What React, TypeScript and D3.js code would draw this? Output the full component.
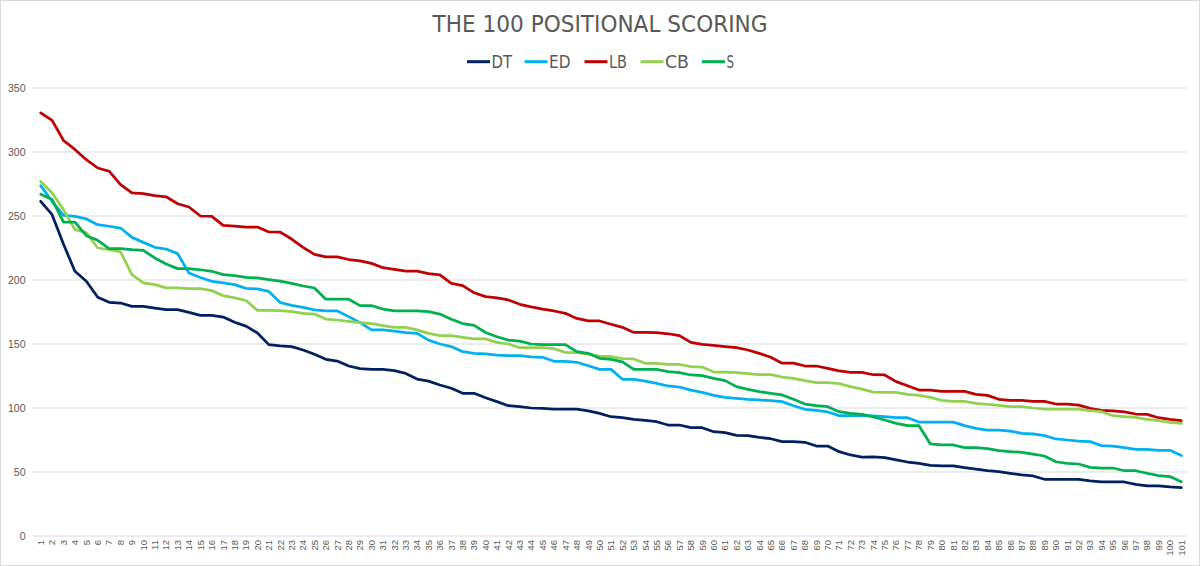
import React from "react";
import * as d3 from "d3";

const categories: string[] = Array.from({ length: 101 }, (_, i) => String(i + 1));

const dtValues: number[] = [
  261.5, 251, 228, 206.8, 199, 186.5, 182.6, 182, 179.4, 179.4,
  178, 176.8, 176.8, 174.7, 172.4, 172.4, 171, 167, 164, 158.6,
  149.5, 148.6, 148, 145.3, 142, 138, 136.7, 132.8, 130.7, 130.2,
  130.2, 129.2, 127, 122.6, 121, 118, 115.4, 111.5, 111.5, 108,
  105, 101.8, 101, 100, 99.7, 99.2, 99.2, 99.2, 97.7, 95.8,
  93.2, 92.4, 91.1, 90.4, 89.3, 86.7, 86.7, 84.6, 84.6, 81.5,
  80.7, 78.6, 78.4, 77, 76, 73.7, 73.7, 73.2, 70.3, 70.3,
  65.9, 63.3, 61.7, 61.8, 61.2, 59.4, 57.8, 56.8, 55.2, 54.7,
  54.7, 53.4, 52.3, 51, 50.3, 49, 47.7, 46.9, 44.3, 44.3,
  44.3, 44.3, 43, 42.2, 42.2, 42.2, 40.4, 39.1, 39.1, 38.3,
  37.8,
];

const edValues: number[] = [
  273.7, 261.5, 250.5, 249.7, 247.7, 243.2, 242, 240.6, 233.3, 229.4,
  225.5, 224.2, 220.6, 205.5, 202, 199, 197.7, 196.4, 193.5, 193,
  191.1, 182.4, 180.2, 178.6, 176.6, 175.8, 175.8, 171.4, 166.7, 161,
  161, 160, 158.9, 158.3, 153, 150, 148, 144, 142.7, 142.2,
  141.4, 140.9, 140.9, 140, 139.6, 136.5, 136.5, 135.7, 133, 130.2,
  130.2, 122.4, 122.4, 121, 119.3, 117.2, 116.4, 114, 112.2, 109.9,
  108.3, 107.6, 106.8, 106.3, 105.7, 105, 101.8, 99, 98.2, 96.9,
  94, 94, 94, 93.8, 93.2, 92.4, 92.4, 89, 89, 89,
  89, 86.2, 84.1, 82.8, 82.8, 82, 80.2, 79.7, 78.4, 75.8,
  75, 74.2, 73.7, 70.6, 70.3, 69, 67.7, 67.7, 66.9, 66.9,
  62.8,
];

const lbValues: number[] = [
  330.5, 324.7, 309, 302, 294, 287.5, 285, 274.5, 268, 267.5,
  266, 265, 259.6, 257, 250, 249.7, 242.7, 242, 241.4, 241.4,
  237.5, 237.4, 232, 225.5, 220, 218, 218, 216, 215, 213,
  209.6, 208.3, 207, 207, 205, 204, 197.4, 195.6, 190, 187,
  186, 184.4, 181, 179, 177.3, 175.8, 174, 170, 168, 168,
  165.4, 163, 159, 159, 158.9, 158, 156.5, 151.3, 149.7, 149,
  148, 147.1, 145.3, 142.7, 139.6, 135, 135, 132.8, 132.8, 131,
  129, 127.9, 127.9, 126, 125.8, 120.6, 117.4, 114, 114, 113,
  113, 113, 110.7, 109.9, 106.8, 106, 106, 105.2, 105.2, 103.1,
  103.1, 102.3, 99.7, 98.2, 97.7, 96.9, 95.3, 95, 92.4, 91.1,
  90.1,
];

const cbValues: number[] = [
  277, 268, 255, 239.3, 237, 225, 223.7, 222, 204.2, 197.7,
  196.4, 193.8, 193.8, 193.2, 193.2, 191.7, 187.8, 186, 184, 176.3,
  176.3, 176, 175.3, 174, 173.4, 169.5, 168.75, 167.7, 166.7, 166,
  164.3, 163, 163, 161, 158.3, 156.5, 156.5, 155.2, 154, 154,
  151.3, 150, 147.1, 147.1, 147.1, 146.3, 143.5, 143.2, 142, 140.6,
  140.1, 138.5, 138.3, 134.9, 134.9, 134, 134, 132.3, 132, 128.1,
  128.1, 127.6, 126.8, 126, 126, 124.2, 123.2, 121.4, 119.8, 119.8,
  119, 116.7, 114.8, 112.4, 112.2, 112.2, 110.7, 109.9, 108.3, 106,
  105.2, 105.2, 103.6, 102.9, 102.1, 101, 101, 100, 99.2, 99.2,
  99.2, 99.2, 97.9, 97.1, 94, 93.2, 92.7, 91.1, 90.1, 88.8,
  88,
];

const sValues: number[] = [
  267, 262.8, 245.3, 245.3, 234.6, 231, 224.5, 224.5, 223.7, 223.2,
  217.2, 212.5, 208.9, 208.9, 208, 206.8, 204.2, 203.4, 202, 201.6,
  200.3, 199.1, 197.4, 195.3, 193.75, 185, 185, 185, 180, 180,
  177.3, 175.8, 175.8, 175.8, 175.3, 173.4, 169.3, 166, 164.6, 159,
  155.7, 153, 152.3, 150, 149.5, 149.5, 149.5, 144, 142.7, 138.8,
  138, 136, 130.2, 130.2, 130.2, 128.4, 127.6, 125.8, 125.3, 123.2,
  121.4, 116.7, 114.6, 112.8, 111.5, 110.2, 106.8, 103.1, 101.8, 101,
  97.1, 95.8, 95, 93, 90.6, 88, 86.2, 86.2, 71.9, 71.1,
  71.1, 69, 69, 68.2, 66.7, 65.9, 65.4, 64, 62.5, 58,
  56.8, 56.25, 53.6, 53.1, 53.1, 51, 51, 49, 47.1, 46.4,
  42.4,
];

const seriesNames: string[] = ["DT", "ED", "LB", "CB", "S"];
const seriesColors: string[] = ["#002060", "#00b0f0", "#c00000", "#92d050", "#00b050"];
const seriesData: number[][] = [dtValues, edValues, lbValues, cbValues, sValues];
const yTicks: number[] = [0, 50, 100, 150, 200, 250, 300, 350];

const W = 1200;
const H = 566;
const TEXT = "#595959";
const GRID = "#d9d9d9";

export default function App() {
  const x = d3.scalePoint<string>().domain(categories).range([35, 1187]).padding(0.5);
  const y = d3.scaleLinear().domain([0, 350]).range([536, 88]);
  const line = d3
    .line<number>()
    .x((_, i) => x(categories[i]) as number)
    .y((d) => y(d));

  const legendLineX = [467, 524.5, 584.5, 640.5, 702];
  const legendTextLen = [20.5, 21.5, 18, 24, 7.5];

  return (
    <svg
      width={W}
      height={H}
      style={{ position: "fixed", left: 0, top: 0, background: "#fff", display: "block" }}
    >
      <rect x={0.5} y={0.5} width={W - 1} height={H - 1} fill="#fff" stroke={GRID} />
      <text
        x={600}
        y={31.5}
        textAnchor="middle"
        fontFamily="DejaVu Sans"
        fontSize={22.5}
        fill={TEXT}
        textLength={335}
        lengthAdjust="spacingAndGlyphs"
      >
        THE 100 POSITIONAL SCORING
      </text>

      {seriesNames.map((n, i) => (
        <g key={n}>
          <line
            x1={legendLineX[i]}
            x2={legendLineX[i] + 23}
            y1={61.7}
            y2={61.7}
            stroke={seriesColors[i]}
            strokeWidth={3}
          />
          <text
            x={legendLineX[i] + 24.5}
            y={68.3}
            fontFamily="DejaVu Sans"
            fontSize={18}
            fill={TEXT}
            textLength={legendTextLen[i]}
            lengthAdjust="spacingAndGlyphs"
          >
            {n}
          </text>
        </g>
      ))}

      {yTicks.map((t) => (
        <g key={t}>
          {t > 0 && (
            <line x1={33} x2={1187} y1={y(t)} y2={y(t)} stroke={GRID} strokeWidth={1} />
          )}
          <text
            x={25.5}
            y={y(t)}
            dy="0.35em"
            textAnchor="end"
            fontFamily="Liberation Sans"
            fontSize={10.5}
            fill={TEXT}
          >
            {t}
          </text>
        </g>
      ))}

      <line x1={33} x2={1187} y1={y(0)} y2={y(0)} stroke={GRID} strokeWidth={1} />

      {categories.map((c) => (
        <text
          key={c}
          transform={`translate(${x(c)},${540}) rotate(-90)`}
          textAnchor="end"
          dy="0.35em"
          fontFamily="Liberation Sans"
          fontSize={9.5}
          fill={TEXT}
        >
          {c}
        </text>
      ))}

      {seriesData.map((vals, i) => (
        <path
          key={seriesNames[i]}
          d={line(vals) || ""}
          fill="none"
          stroke={seriesColors[i]}
          strokeWidth={2.75}
          strokeLinejoin="round"
          strokeLinecap="round"
        />
      ))}
    </svg>
  );
}
